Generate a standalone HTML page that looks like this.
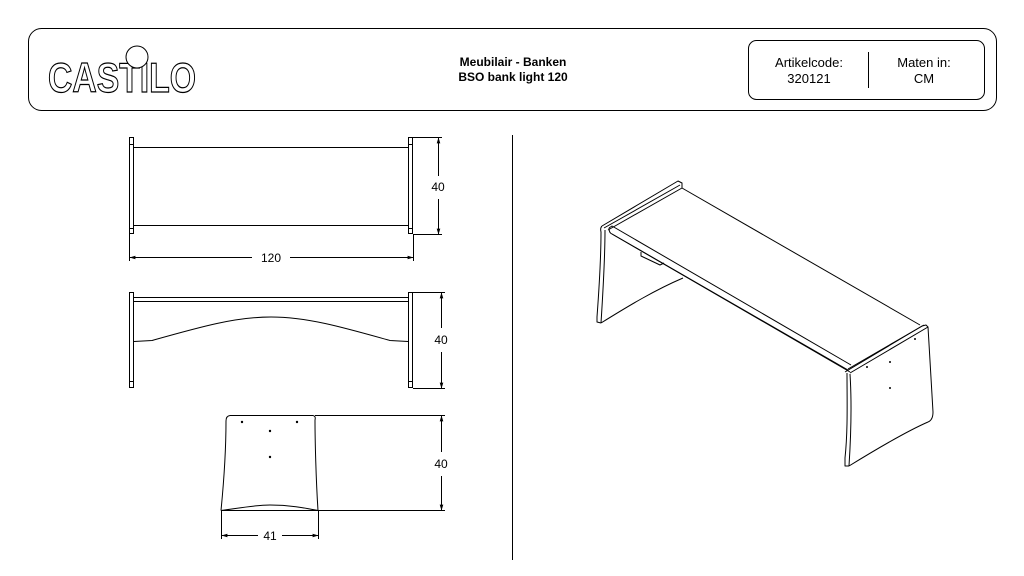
<!DOCTYPE html>
<html><head><meta charset="utf-8"><style>
html,body{margin:0;padding:0;background:#fff;}
svg{display:block;}
text{font-family:"Liberation Sans",Arial,sans-serif;}
</style></head><body>
<svg width="1024" height="576" viewBox="0 0 1024 576" xmlns="http://www.w3.org/2000/svg">
<defs>
<marker id="a" viewBox="0 0 10 10" refX="9" refY="5" markerWidth="6" markerHeight="6" orient="auto-start-reverse"><path d="M0,2 L10,5 L0,8 z" fill="#000"/></marker>
</defs>
<g fill="none" stroke="#000" stroke-width="1">
<rect x="28.5" y="28.5" width="968" height="82" rx="13"/>
<rect x="748.5" y="40.5" width="236" height="59" rx="8"/>
<line x1="868.5" y1="52" x2="868.5" y2="88"/>
<line x1="512.5" y1="135" x2="512.5" y2="560"/>
</g>
<text x="48" y="92" font-size="42" font-weight="bold" fill="#fff" stroke="#000" stroke-width="1.2" textLength="148" lengthAdjust="spacingAndGlyphs" font-family="Liberation Sans,sans-serif">CASTILO</text>
<circle cx="137" cy="57" r="11" fill="#fff" stroke="#000"/>
<g font-size="12" text-anchor="middle">
<text x="513" y="66" font-weight="bold">Meubilair - Banken</text>
<text x="513" y="81" font-weight="bold">BSO bank light 120</text>
<text x="809" y="67" font-size="13">Artikelcode:</text>
<text x="809" y="83" font-size="13">320121</text>
<text x="924" y="67" font-size="13">Maten in:</text>
<text x="924" y="83" font-size="13">CM</text>
</g>
<g fill="none" stroke="#000" stroke-width="1">
<rect x="129.5" y="137.5" width="4" height="96"/>
<rect x="408.5" y="137.5" width="4" height="96"/>
<line x1="129" y1="144.5" x2="134" y2="144.5"/><line x1="408" y1="144.5" x2="413" y2="144.5"/>
<line x1="129" y1="228.5" x2="134" y2="228.5"/><line x1="408" y1="228.5" x2="413" y2="228.5"/>
<line x1="134" y1="147.5" x2="408" y2="147.5"/>
<line x1="134" y1="225.5" x2="408" y2="225.5"/>
<line x1="413" y1="137.5" x2="442" y2="137.5"/>
<line x1="413" y1="234.5" x2="442" y2="234.5"/>
<line x1="438.5" y1="138" x2="438.5" y2="176" marker-start="url(#a)"/>
<line x1="438.5" y1="199" x2="438.5" y2="234" marker-end="url(#a)"/>
<line x1="129.5" y1="234" x2="129.5" y2="261"/>
<line x1="413.5" y1="234" x2="413.5" y2="261"/>
<line x1="130" y1="257.5" x2="252" y2="257.5" marker-start="url(#a)"/>
<line x1="290" y1="257.5" x2="413" y2="257.5" marker-end="url(#a)"/>
<rect x="129.5" y="292.5" width="4" height="95"/>
<rect x="408.5" y="292.5" width="4" height="95"/>
<line x1="129" y1="381.5" x2="134" y2="381.5"/><line x1="408" y1="381.5" x2="413" y2="381.5"/>
<line x1="134" y1="297.5" x2="408" y2="297.5"/>
<line x1="134" y1="301.5" x2="408" y2="301.5"/>
<path d="M134,341.5 L152,340.5 C200,327 235,317 271,317 C307,317 342,327 390,340.5 L408,341.5"/>
<line x1="413" y1="292.5" x2="445" y2="292.5"/>
<line x1="413" y1="388.5" x2="445" y2="388.5"/>
<line x1="441.5" y1="293" x2="441.5" y2="328" marker-start="url(#a)"/>
<line x1="441.5" y1="352" x2="441.5" y2="388" marker-end="url(#a)"/>
<path d="M230,415.5 L313,415.5 Q316,416 315,420 C315,440 316,480 318,510.5"/>
<path d="M230,415.5 Q226,416 226,421 C226,445 224,480 221,510.5"/>
<path d="M221,510.5 C240,508 255,505 270,505 C290,505 305,508 318,510.5"/>
<line x1="315" y1="415.5" x2="445" y2="415.5"/>
<line x1="221" y1="510.5" x2="445" y2="510.5"/>
<line x1="441.5" y1="416" x2="441.5" y2="452" marker-start="url(#a)"/>
<line x1="441.5" y1="476" x2="441.5" y2="510" marker-end="url(#a)"/>
<line x1="221.5" y1="510" x2="221.5" y2="539"/>
<line x1="318.5" y1="510" x2="318.5" y2="539"/>
<line x1="222" y1="535.5" x2="258" y2="535.5" marker-start="url(#a)"/>
<line x1="282" y1="535.5" x2="318" y2="535.5" marker-end="url(#a)"/>
</g>
<g fill="#000"><circle cx="242" cy="422" r="1.2"/><circle cx="297" cy="422" r="1.2"/><circle cx="270" cy="431" r="1.2"/><circle cx="270" cy="457" r="1.2"/></g>
<g font-size="12" text-anchor="middle">
<text x="438" y="191">40</text>
<text x="271" y="262">120</text>
<text x="441" y="344">40</text>
<text x="441" y="468">40</text>
<text x="270" y="540">41</text>
</g>
<g fill="none" stroke="#000" stroke-width="1" stroke-linejoin="round">
<path d="M602,226 L678,181 L682,183 L682,188 L608,230"/>
<line x1="604" y1="228" x2="680" y2="185"/>
<path d="M602,226 Q600,228 601,232 C601,260 599,290 597,317 L597,322 L601,323"/>
<path d="M605,230 C605,260 603,292 601,323"/>
<path d="M601,323 C630,305 655,290 683,278"/>
<path d="M682,188 L920,325"/>
<path d="M609,228 Q609,233 612,234 L850,372"/>
<path d="M609,228 L612,226 L851,365"/>
<line x1="612" y1="234" x2="848" y2="370"/>
<path d="M641,252 L641,256 L660,265 L664,263"/>
<path d="M845,372 L922,326 L926,325 L928,327 L850,373"/>
<line x1="848" y1="369" x2="924" y2="325"/>
<path d="M847,373 C847,400 848,430 845,458 L845,466 L849,466"/>
<path d="M850,374 C852,405 851,435 849,466"/>
<path d="M928,327 C930,360 932,395 933,412 Q933,420 928,422"/>
<path d="M849,466 C875,450 905,432 928,422"/>
</g>
<g fill="#000"><circle cx="867" cy="367" r="1"/><circle cx="890" cy="362" r="1"/><circle cx="890" cy="388" r="1"/><circle cx="915" cy="339" r="1"/></g>
</svg>
</body></html>
